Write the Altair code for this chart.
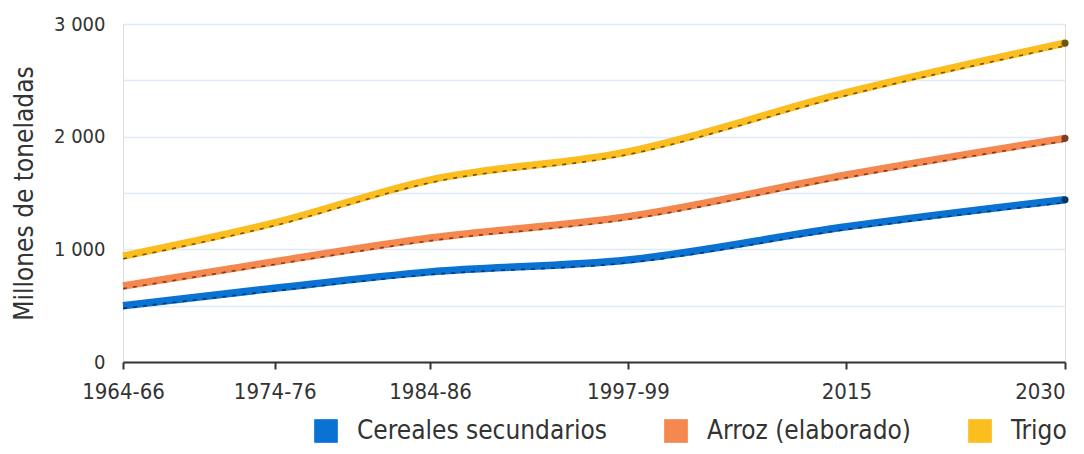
import altair as alt
import pandas as pd

periods = ["1964-66", "1974-76", "1984-86", "1997-99", "2015", "2030"]
# relative horizontal placement of each period on the original axis (0 = first, 1 = last)
period_pos = [0.0, 0.161, 0.326, 0.536, 0.768, 1.0]

series = ["Cereales secundarios", "Arroz (elaborado)", "Trigo"]
cereales = [500, 655, 800, 905, 1200, 1440]
arroz = [675, 890, 1100, 1290, 1660, 1985]
trigo = [940, 1235, 1615, 1865, 2390, 2830]

colors = ["#0a72d2", "#f5884f", "#fcbd1f"]
darks = ["#0b3766", "#7a3e22", "#6b5616"]

rows = []
for name, vals in zip(series, [cereales, arroz, trigo]):
    for p, pos, v in zip(periods, period_pos, vals):
        rows.append({"serie": name, "periodo": p, "pos": pos, "valor": v})
df = pd.DataFrame(rows)
legend_df = pd.DataFrame({"serie": series})

FONT = "DejaVu Sans Condensed, Liberation Sans Narrow, sans-serif"
TXT = "#333333"

x_enc = alt.X(
    "pos:Q",
    scale=alt.Scale(domain=[0, 1], nice=False, zero=False),
    axis=alt.Axis(
        values=period_pos,
        labelExpr="[" + ", ".join(f"'{l}'" for l in periods) + "][indexof(" + str(period_pos) + ", datum.value)]",
        labelAlign={"condition": {"test": "datum.value >= 1", "value": "right"}, "value": "center"},
        title=None,
        grid=False,
        domainColor=TXT,
        domainWidth=2,
        tickColor=TXT,
        tickWidth=2,
        tickSize=7,
        labelFont=FONT,
        labelFontSize=22,
        labelColor=TXT,
        labelPadding=12,
        labelFlush=False,
        zindex=2,
    ),
)
y_enc = alt.Y(
    "valor:Q",
    scale=alt.Scale(domain=[0, 3000], nice=False),
    axis=alt.Axis(
        values=[0, 500, 1000, 1500, 2000, 2500, 3000],
        labelExpr="datum.value % 1000 == 0 ? replace(format(datum.value, ','), ',', ' ') : ''",
        title="Millones de toneladas",
        titleFont=FONT,
        titleFontSize=26,
        titleFontWeight="normal",
        titleColor=TXT,
        titleX=-99,
        titleY=169,
        titleAngle=-90,
        titleAlign="center",
        titleBaseline="middle",
        domain=False,
        ticks=False,
        grid=True,
        gridColor="#dfe9f8",
        gridWidth=1.5,
        labelFont=FONT,
        labelFontSize=20,
        labelColor=TXT,
        labelPadding=18,
    ),
)

main = alt.Chart(df).mark_line(
    strokeWidth=7.5, interpolate="monotone", strokeCap="butt"
).encode(
    x=x_enc,
    y=y_enc,
    color=alt.Color("serie:N", scale=alt.Scale(domain=series, range=colors), legend=None),
    detail="serie:N",
)

shadow = alt.Chart(df).mark_line(
    strokeWidth=1.6, interpolate="monotone", strokeDash=[4, 6], yOffset=2.7
).encode(
    x=alt.X("pos:Q"),
    y=alt.Y("valor:Q"),
    color=alt.Color("serie:N", scale=alt.Scale(domain=series, range=darks), legend=None),
    detail="serie:N",
)

ends = alt.Chart(df[df["periodo"] == periods[-1]]).mark_point(
    shape="circle", filled=True, size=50, opacity=1
).encode(
    x=alt.X("pos:Q"),
    y=alt.Y("valor:Q"),
    color=alt.Color("serie:N", scale=alt.Scale(domain=series, range=darks), legend=None),
)

# legend source: squares placed outside the clipped plot area, only their legend is seen
legend_src = alt.Chart(legend_df).mark_square(filled=True, clip=True, opacity=1).encode(
    x=alt.value(-400),
    y=alt.value(-400),
    color=alt.Color(
        "serie:N",
        scale=alt.Scale(domain=series, range=colors),
        legend=alt.Legend(
            title=None,
            orient="none",
            legendX=190,
            legendY=394,
            direction="horizontal",
            symbolType="square",
            symbolSize=560,
            symbolStrokeWidth=0,
            symbolOpacity=1,
            labelFont=FONT,
            labelFontSize=26,
            labelColor=TXT,
            labelOffset=18,
            columnPadding=56,
            padding=0,
            labelLimit=400,
        ),
    ),
)

chart = (
    alt.layer(main, shadow, ends, legend_src)
    .resolve_scale(color="independent")
    .properties(
        width=942,
        height=338,
        padding={"left": 115, "top": 16, "right": 11, "bottom": 84},
        autosize=alt.AutoSizeParams(type="none"),
    )
    .configure_view(stroke=None)
    .configure(background="white")
)

chart.save("out.html", embed_options={"renderer": "svg", "actions": False})
